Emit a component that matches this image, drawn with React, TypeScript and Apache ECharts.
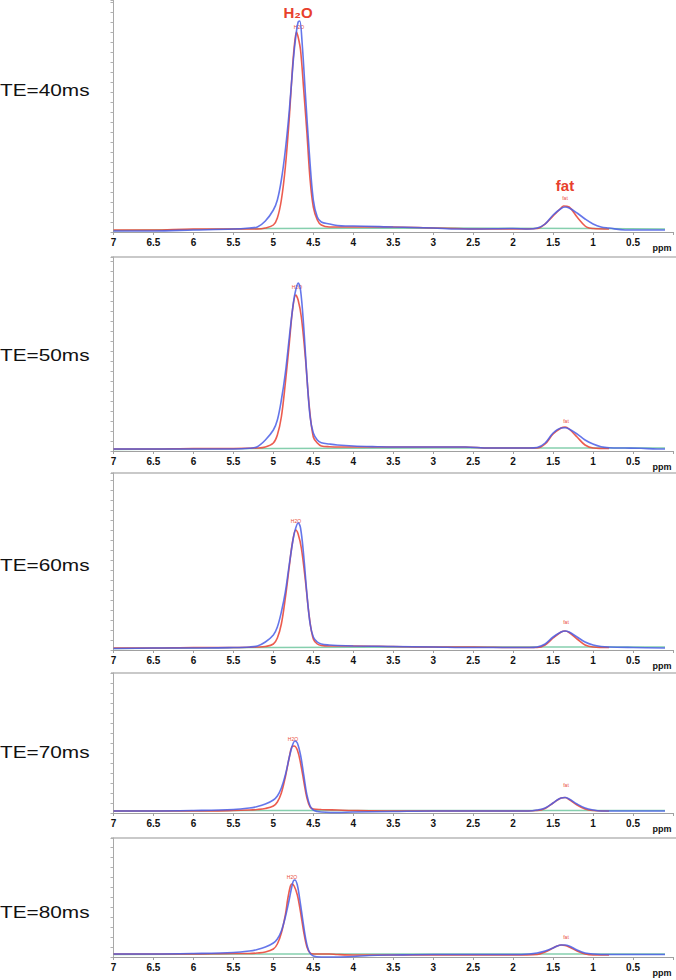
import { useEffect, useRef } from 'react';
import * as echarts from 'echarts';

// ---------- data (chemical shift in ppm, signal amplitude in a.u.) ----------
const ppmTicks = [7, 6.5, 6, 5.5, 5, 4.5, 4, 3.5, 3, 2.5, 2, 1.5, 1, 0.5];

const te40Blue: number[][] = [[7.0,1],[6.5,1],[6.0,2],[5.5,3],[5.3,4],[5.2,5],[5.1,11],[5.0,22],[4.95,32],[4.9,52],[4.85,82],[4.8,122],[4.75,172],[4.72,195],[4.69,210],[4.67,211],[4.64,189],[4.6,139],[4.55,79],[4.5,32],[4.45,15],[4.4,10],[4.3,8],[4.2,6.5],[4.1,6],[4.0,6],[3.5,5],[3.0,4],[2.7,3],[2.5,3],[2.0,3.5],[1.8,3],[1.7,4],[1.6,8],[1.5,17],[1.4,23.5],[1.35,25],[1.3,24],[1.2,19],[1.1,13],[1.0,8],[0.9,5],[0.8,4],[0.6,2],[0.5,2],[0.2,2],[0.1,2]];
const te40Red: number[][] = [[7.0,2],[6.5,2],[6.0,3],[5.5,3],[5.2,3],[5.1,4],[5.0,7],[4.95,14],[4.9,32],[4.85,65],[4.8,115],[4.76,165],[4.73,192],[4.71,200],[4.69,195],[4.66,182],[4.62,142],[4.58,99],[4.54,52],[4.5,25],[4.45,12],[4.4,7],[4.3,5],[4.2,5],[3.5,5],[3.0,4],[2.7,3.5],[2.5,3],[2.0,3],[1.7,3.5],[1.6,8],[1.5,16],[1.4,24],[1.37,26],[1.3,25],[1.2,15],[1.1,6],[1.05,4],[1.0,3.5],[0.8,3]];
const te40Green: number[][] = [[7.0,1.5],[5.0,3.5],[3.0,4],[1.0,3.5],[0.1,3]];

const te50Blue: number[][] = [[7.0,2],[6.5,2],[6.0,2],[5.5,2],[5.3,2.7],[5.2,4.3],[5.1,11],[5.0,21],[4.95,31],[4.9,51],[4.85,78],[4.8,114],[4.75,148],[4.72,161],[4.69,168],[4.66,161],[4.62,124],[4.58,74],[4.54,34],[4.5,18],[4.45,11],[4.4,8.3],[4.3,7],[4.2,6],[4.0,5],[3.7,4.3],[3.5,4],[3.0,4],[2.6,4],[2.3,3],[2.0,3],[1.8,3],[1.7,3.5],[1.6,8],[1.5,18],[1.4,23],[1.35,23.3],[1.3,22],[1.2,17],[1.1,11],[1.0,7],[0.9,4.3],[0.8,3.3],[0.6,3],[0.4,2.7],[0.2,2],[0.1,2]];
const te50Red: number[][] = [[7.0,2],[6.5,2],[6.0,2.5],[5.5,2.5],[5.2,3],[5.1,4],[5.0,8],[4.95,16],[4.9,34],[4.85,68],[4.8,108],[4.76,141],[4.72,156],[4.69,151],[4.65,134],[4.6,94],[4.55,44],[4.5,14],[4.45,8],[4.4,5],[4.3,4.3],[4.0,4],[3.0,4],[2.6,4],[2.3,3],[2.0,3],[1.7,3],[1.6,7],[1.5,17],[1.4,23],[1.35,24],[1.3,22],[1.2,14],[1.1,6],[1.0,3],[0.8,2.5]];
const te50Green: number[][] = [[7.0,1.5],[5.0,2.5],[3.0,3],[1.0,3],[0.1,3]];

const te60Blue: number[][] = [[7.0,1.5],[6.5,2],[6.0,2],[5.5,2.5],[5.3,3],[5.2,4],[5.1,8],[5.0,15],[4.95,23],[4.9,38],[4.85,58],[4.8,86],[4.75,112],[4.72,122],[4.69,127],[4.66,122],[4.62,94],[4.58,56],[4.54,26],[4.5,13],[4.45,8],[4.4,6],[4.3,5],[4.2,4.5],[4.0,4],[3.5,3.5],[3.0,3],[2.5,2.5],[2.0,2.5],[1.8,2.5],[1.7,3],[1.6,6],[1.5,13],[1.4,18],[1.35,19],[1.3,18],[1.2,13],[1.1,8],[1.0,5],[0.9,3.5],[0.8,3],[0.5,2.5],[0.1,2]];
const te60Red: number[][] = [[7.0,2],[6.5,2],[6.0,2.5],[5.5,2.5],[5.2,3],[5.1,3.5],[5.0,6],[4.95,12],[4.9,26],[4.85,52],[4.8,84],[4.76,108],[4.72,120],[4.69,116],[4.65,102],[4.6,70],[4.55,33],[4.5,11],[4.45,6],[4.4,4.5],[4.3,4],[4.0,4],[3.5,3.5],[3.0,3],[2.5,3],[2.0,2.5],[1.7,2.5],[1.6,5],[1.5,12],[1.4,18],[1.35,19],[1.3,17.5],[1.2,11],[1.1,5],[1.0,3],[0.8,2.5]];
const te60Green: number[][] = [[7.0,1.5],[5.0,2.5],[3.0,3],[1.0,3],[0.1,3]];

const te70Blue: number[][] = [[7.0,2],[6.5,2],[6.0,2.5],[5.5,3.5],[5.3,5],[5.2,6.5],[5.1,9],[5.0,13],[4.95,17],[4.9,25],[4.85,38],[4.8,56],[4.76,68],[4.73,72],[4.7,70],[4.66,58],[4.62,38],[4.58,18],[4.54,7],[4.5,3],[4.45,1.5],[4.4,1],[4.2,0.5],[4.0,1],[3.5,1.5],[3.0,2],[2.5,2],[2.0,2],[1.8,2],[1.7,3],[1.6,5],[1.5,10],[1.45,13],[1.4,15],[1.35,15.5],[1.3,14],[1.2,9],[1.1,5],[1.0,3],[0.9,2],[0.5,2],[0.1,2]];
const te70Red: number[][] = [[7.0,2],[6.0,2],[5.5,2.5],[5.3,3],[5.2,3.5],[5.1,4.5],[5.0,7],[4.95,11],[4.9,20],[4.85,36],[4.8,56],[4.77,66],[4.74,67],[4.7,63],[4.66,50],[4.62,32],[4.58,15],[4.54,6],[4.5,4],[4.4,3.5],[4.2,3],[4.0,2.5],[3.5,2],[3.0,2],[2.5,2],[2.0,2],[1.7,2.5],[1.6,4.5],[1.5,10],[1.4,15],[1.35,15.5],[1.3,13.5],[1.2,8],[1.1,4],[1.0,2.5],[0.8,2]];
const te70Green: number[][] = [[7.0,2],[5.0,2.5],[3.0,2.5],[1.0,2.5],[0.1,2.5]];

const te80Blue: number[][] = [[7.0,3],[6.5,3],[6.0,3.5],[5.5,4.5],[5.3,6],[5.2,7.5],[5.1,10],[5.0,14],[4.95,18],[4.9,26],[4.85,40],[4.8,58],[4.77,70],[4.75,76],[4.73,77],[4.7,72],[4.67,58],[4.63,36],[4.59,16],[4.55,5],[4.5,1],[4.4,0],[4.2,0],[4.0,0.5],[3.8,1.5],[3.5,2],[3.0,2.5],[2.5,2.5],[2.0,2.5],[1.8,3],[1.7,4],[1.6,6],[1.5,9],[1.45,11],[1.4,12],[1.35,12],[1.3,11],[1.2,7],[1.1,4],[1.0,3],[0.8,2.5],[0.5,2.5],[0.1,2.5]];
const te80Red: number[][] = [[7.0,3],[6.0,3],[5.5,3.5],[5.3,3.5],[5.2,4],[5.1,5],[5.0,8],[4.95,13],[4.9,24],[4.85,42],[4.82,58],[4.79,70],[4.77,73],[4.74,71],[4.7,62],[4.66,45],[4.62,25],[4.58,10],[4.54,4],[4.5,3],[4.3,3],[4.2,2.5],[4.0,2],[3.5,2],[3.0,2],[2.5,2],[2.0,2],[1.7,2.5],[1.6,5],[1.5,9],[1.45,11],[1.4,12],[1.35,11.5],[1.3,10],[1.2,6],[1.1,3],[1.0,2],[0.8,2]];
const te80Green: number[][] = [[7.0,2.5],[5.0,3],[3.0,3],[1.0,3],[0.1,3]];

const teLabels = ['TE=40ms', 'TE=50ms', 'TE=60ms', 'TE=70ms', 'TE=80ms'];
const blueSeries = [te40Blue, te50Blue, te60Blue, te70Blue, te80Blue];
const redSeries = [te40Red, te50Red, te60Red, te70Red, te80Red];
const greenSeries = [te40Green, te50Green, te60Green, te70Green, te80Green];

// ---------- layout (pixels) ----------
const W = 676;
const H = 980;
const LEFT = 113.5;
const RIGHT = 2.5;
const panelTop = [0, 257, 473, 673, 838];
const panelHeight = [232, 194, 177, 140, 119];
const teLabelY = [90, 355, 565, 752, 912];
const h2oSmall = [[299, 27], [297, 287], [296, 521], [293, 739], [292, 877]];
const fatSmall = [[565, 198], [566, 421], [566, 622], [566, 785], [566, 937]];

const BLUE = '#4a5ee6';
const RED = '#ea4a3c';
const GREEN = '#86cfae';
const FONT = '"Liberation Sans", Arial, sans-serif';

function buildOption() {
  const grid: any[] = [];
  const xAxis: any[] = [];
  const yAxis: any[] = [];
  const series: any[] = [];
  const graphic: any[] = [];

  for (let i = 0; i < 5; i++) {
    grid.push({ left: LEFT, right: RIGHT, top: panelTop[i], height: panelHeight[i] });
    xAxis.push({
      type: 'value', gridIndex: i, min: 0, max: 7, interval: 0.5, inverse: true,
      axisLine: { show: true, onZero: false, lineStyle: { color: '#a0a0a0', width: 1 } },
      axisTick: { show: true, length: 3, lineStyle: { color: '#a0a0a0' } },
      axisLabel: {
        show: true, margin: 5, fontSize: 10, fontWeight: 'bold', color: '#111', fontFamily: FONT,
        formatter: (v: number) => (ppmTicks.indexOf(v) >= 0 ? String(v) : ''),
      },
      splitLine: { show: false },
    });
    yAxis.push({
      type: 'value', gridIndex: i, position: 'left', min: 0, max: panelHeight[i], interval: 10,
      axisLine: { show: true, onZero: false, lineStyle: { color: '#a8a8a8', width: 1 } },
      axisTick: { show: true, length: 3, lineStyle: { color: '#b0b0b0' } },
      axisLabel: { show: false },
      splitLine: { show: false },
    });
    const common = {
      type: 'line', xAxisIndex: i, yAxisIndex: i, showSymbol: false, symbol: 'none',
      smooth: 0.35, clip: false, silent: true,
    };
    series.push({ ...common, name: 'baseline', data: greenSeries[i], smooth: false, lineStyle: { color: GREEN, width: 1.3 } });
    series.push({ ...common, name: 'fit', data: redSeries[i], lineStyle: { color: RED, width: 1.6, opacity: 0.9 } });
    series.push({ ...common, name: 'spectrum', data: blueSeries[i], lineStyle: { color: BLUE, width: 1.6, opacity: 0.85 } });

    if (i > 0) {
      graphic.push({ type: 'line', shape: { x1: 111, y1: panelTop[i], x2: W, y2: panelTop[i] }, style: { stroke: '#c9c9c9', lineWidth: 2 } });
    }
    graphic.push({
      type: 'text', x: 0, y: teLabelY[i], scaleX: 1.3,
      style: { text: teLabels[i], fontSize: 16, fontFamily: FONT, fill: '#111', verticalAlign: 'middle', align: 'left' },
    });
    graphic.push({
      type: 'text', x: 662, y: panelTop[i] + panelHeight[i] + 16,
      style: { text: 'ppm', fontSize: 9, fontWeight: 'bold', fontFamily: FONT, fill: '#111', verticalAlign: 'middle', align: 'center' },
    });
    graphic.push({
      type: 'text', x: h2oSmall[i][0], y: h2oSmall[i][1],
      style: { text: 'H2O', fontSize: 5, fontFamily: FONT, fill: RED, verticalAlign: 'middle', align: 'center' },
    });
    graphic.push({
      type: 'text', x: fatSmall[i][0], y: fatSmall[i][1],
      style: { text: 'fat', fontSize: 5, fontFamily: FONT, fill: RED, verticalAlign: 'middle', align: 'center' },
    });
  }
  graphic.push({
    type: 'text', x: 298, y: 12,
    style: { text: 'H₂O', fontSize: 15, fontWeight: 'bold', fontFamily: FONT, fill: '#e8402c', verticalAlign: 'middle', align: 'center' },
  });
  graphic.push({
    type: 'text', x: 565, y: 185,
    style: { text: 'fat', fontSize: 15, fontWeight: 'bold', fontFamily: FONT, fill: '#e8402c', verticalAlign: 'middle', align: 'center' },
  });

  return {
    animation: false,
    backgroundColor: '#ffffff',
    grid, xAxis, yAxis, series, graphic,
  };
}

export default function App() {
  const ref = useRef<HTMLDivElement>(null);
  useEffect(() => {
    document.body.style.margin = '0';
    const chart = echarts.init(ref.current as HTMLDivElement, null, { renderer: 'svg' });
    chart.setOption(buildOption() as any);
    return () => chart.dispose();
  }, []);
  return <div ref={ref} style={{ width: W, height: H }} />;
}
